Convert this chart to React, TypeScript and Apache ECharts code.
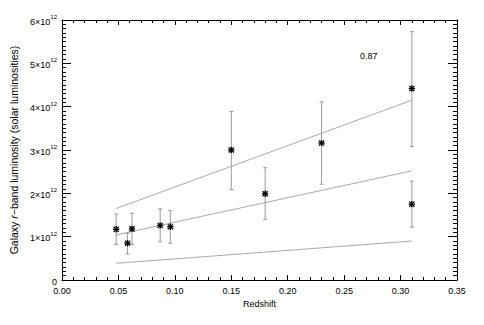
import React, { useEffect, useRef } from "react";
import * as echarts from "echarts";

// Data (luminosity in units of 10^12 solar luminosities)
const redshift = [0.048, 0.058, 0.062, 0.087, 0.096, 0.15, 0.18, 0.23, 0.31, 0.31];
const lum = [1.17, 0.85, 1.18, 1.26, 1.23, 3.0, 1.99, 3.16, 4.42, 1.75];
const lumLow = [0.82, 0.6, 0.82, 0.88, 0.85, 2.09, 1.4, 2.21, 3.08, 1.22];
const lumHigh = [1.52, 1.08, 1.54, 1.64, 1.6, 3.89, 2.59, 4.11, 5.73, 2.28];

const fitX = [0.048, 0.31];
const fitUpper = [1.65, 4.15];
const fitMid = [1.04, 2.52];
const fitLower = [0.385, 0.9];

const xTicks = [0, 0.05, 0.1, 0.15, 0.2, 0.25, 0.3, 0.35];
const yTicks = [0, 1, 2, 3, 4, 5, 6];
const annotation = "0.87";

const FONT = "Liberation Sans";

export default function App() {
  const ref = useRef<HTMLDivElement>(null);
  useEffect(() => {
    if (!ref.current) return;
    const chart = echarts.init(ref.current, null, { renderer: "svg" });
    const points = redshift.map((x, i) => [x, lum[i], lumLow[i], lumHigh[i]]);
    const lineSeries = (vals: number[]) => ({
      type: "line",
      data: fitX.map((x, i) => [x, vals[i]]),
      showSymbol: false,
      symbol: "none",
      lineStyle: { color: "#aaaaaa", width: 1 },
      z: 2,
    });
    const axisCommon = {
      axisLine: { show: true, onZero: false, lineStyle: { color: "#000", width: 1 } },
      splitLine: { show: false },
    };
    chart.setOption({
      animation: false,
      backgroundColor: "#fff",
      grid: { left: 59, right: 27, top: 20, bottom: 45 },
      xAxis: [
        {
          type: "value",
          min: xTicks[0],
          max: xTicks[xTicks.length - 1],
          interval: 0.05,
          position: "bottom",
          ...axisCommon,
          axisTick: { show: true, inside: true, length: 5, lineStyle: { color: "#000" } },
          minorTick: { show: true, splitNumber: 5, length: 3, lineStyle: { color: "#000" } },
          axisLabel: {
            margin: 6,
            fontFamily: FONT,
            fontSize: 9,
            color: "#000",
            formatter: (v: number) => v.toFixed(2),
          },
          name: "Redshift",
          nameLocation: "middle",
          nameGap: 18,
          nameTextStyle: { fontFamily: FONT, fontSize: 9, color: "#000" },
        },
        {
          type: "value",
          min: xTicks[0],
          max: xTicks[xTicks.length - 1],
          interval: 0.05,
          position: "top",
          ...axisCommon,
          axisTick: { show: true, inside: true, length: 5, lineStyle: { color: "#000" } },
          minorTick: { show: true, splitNumber: 5, length: 3, lineStyle: { color: "#000" } },
          axisLabel: { show: false },
        },
      ],
      yAxis: [
        {
          type: "value",
          min: yTicks[0],
          max: yTicks[yTicks.length - 1],
          interval: 1,
          position: "left",
          ...axisCommon,
          axisTick: { show: true, inside: true, length: 9, lineStyle: { color: "#000" } },
          minorTick: { show: true, splitNumber: 10, length: 4, lineStyle: { color: "#000" } },
          axisLabel: {
            margin: 5,
            color: "#000",
            formatter: (v: number) => (v === 0 ? "{b|0}" : `{b|${v}×10}{s|12}`),
            rich: {
              b: { fontFamily: FONT, fontSize: 9, color: "#000", lineHeight: 12, verticalAlign: "bottom" },
              s: { fontFamily: FONT, fontSize: 6, color: "#000", lineHeight: 12, verticalAlign: "top" },
            },
          },
          name: "{n|Galaxy }{i|r}{n|−band luminosity (solar luminosities)}",
          nameLocation: "middle",
          nameRotate: 90,
          nameGap: 43,
          nameTextStyle: {
            rich: {
              n: { fontFamily: FONT, fontSize: 10.5, color: "#000" },
              i: { fontFamily: FONT, fontSize: 10.5, color: "#000", fontStyle: "italic" },
            },
          },
        },
        {
          type: "value",
          min: yTicks[0],
          max: yTicks[yTicks.length - 1],
          interval: 1,
          position: "right",
          ...axisCommon,
          axisTick: { show: true, inside: true, length: 9, lineStyle: { color: "#000" } },
          minorTick: { show: true, splitNumber: 10, length: 4, lineStyle: { color: "#000" } },
          axisLabel: { show: false },
        },
      ],
      graphic: [
        {
          type: "text",
          left: 360,
          top: 51,
          style: { text: annotation, fontFamily: FONT, fontSize: 9, fill: "#000" },
        },
      ],
      series: [
        lineSeries(fitUpper),
        lineSeries(fitMid),
        lineSeries(fitLower),
        {
          type: "custom",
          data: points,
          encode: { x: 0, y: [1, 2, 3] },
          z: 3,
          renderItem: (params: any, api: any) => {
            const x = api.value(0);
            const p = api.coord([x, api.value(1)]);
            const pl = api.coord([x, api.value(2)]);
            const ph = api.coord([x, api.value(3)]);
            const c = 2;
            const s = 3.2;
            const d = s * 0.8;
            const eb = { stroke: "#999", lineWidth: 1 };
            const st = { stroke: "#000", lineWidth: 1.3 };
            return {
              type: "group",
              children: [
                { type: "line", shape: { x1: pl[0], y1: pl[1], x2: ph[0], y2: ph[1] }, style: eb },
                { type: "line", shape: { x1: pl[0] - c, y1: pl[1], x2: pl[0] + c, y2: pl[1] }, style: eb },
                { type: "line", shape: { x1: ph[0] - c, y1: ph[1], x2: ph[0] + c, y2: ph[1] }, style: eb },
                { type: "line", shape: { x1: p[0], y1: p[1] - s, x2: p[0], y2: p[1] + s }, style: st },
                { type: "line", shape: { x1: p[0] - s, y1: p[1], x2: p[0] + s, y2: p[1] }, style: st },
                { type: "line", shape: { x1: p[0] - d, y1: p[1] - d, x2: p[0] + d, y2: p[1] + d }, style: st },
                { type: "line", shape: { x1: p[0] - d, y1: p[1] + d, x2: p[0] + d, y2: p[1] - d }, style: st },
              ],
            };
          },
        },
      ],
    });
    return () => chart.dispose();
  }, []);
  return (
    <div
      ref={ref}
      style={{ position: "absolute", left: 0, top: 0, width: 484, height: 325 }}
    />
  );
}
